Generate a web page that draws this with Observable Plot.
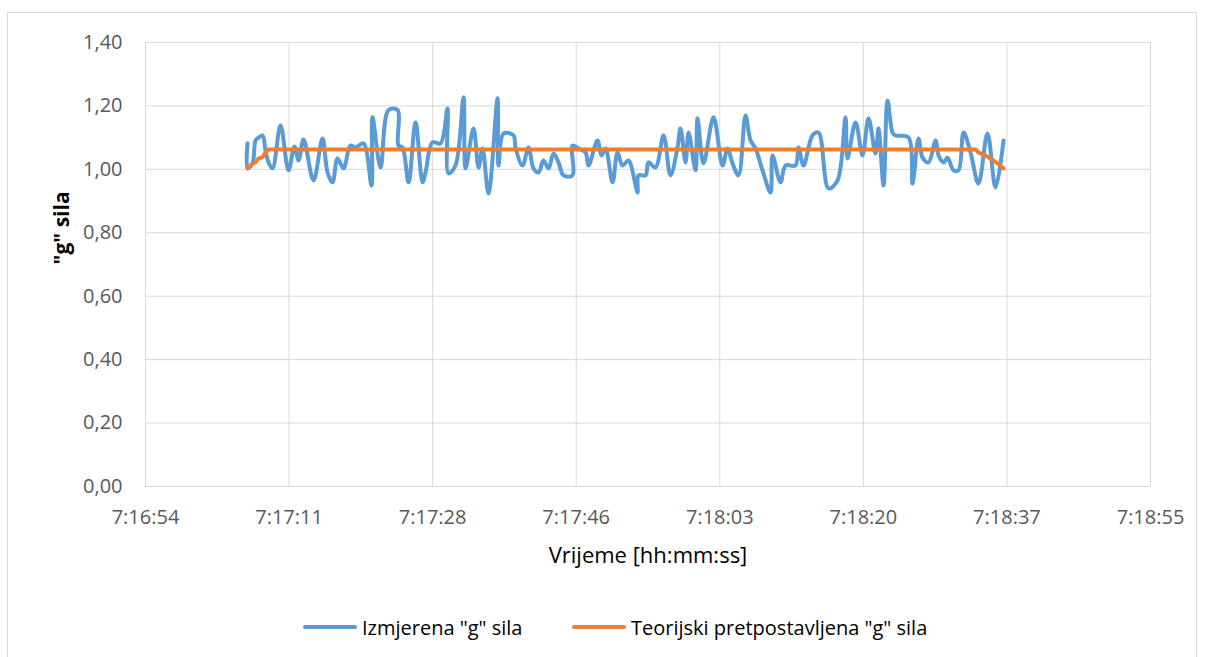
<!DOCTYPE html>
<html>
<head>
<meta charset="utf-8">
<script src="https://cdn.jsdelivr.net/npm/d3@7"></script>
<script src="https://cdn.jsdelivr.net/npm/@observablehq/plot@0.6"></script>
<style>
  html, body { margin: 0; padding: 0; background: #fff; overflow: hidden; }
  #wrap { position: relative; width: 1206px; height: 657px; font-family: "Open Sans", sans-serif; }
  #border { position: absolute; left: 7px; top: 12px; width: 1190px; height: 700px; border: 1px solid #d9d9d9; box-sizing: border-box; }
  #chart { position: absolute; left: 0; top: 0; }
  #legend { position: absolute; top: 612px; left: 0; width: 1206px; height: 30px; font-size: 20px; color: #000; }
  .item { position: absolute; top: 0; display: flex; align-items: center; height: 30px; }
  .sw { width: 54px; height: 4px; margin-right: 5px; border-radius: 2px; }
</style>
</head>
<body>
<div id="wrap">
  <div id="border"></div>
  <div id="chart"></div>
  <div id="legend"></div>
</div>
<script>
// ---- data (times as seconds after 7:17:00) ----
const measuredSec = [6.04,6.04,6.64,7.00,7.36,7.84,8.20,8.56,9.05,10.01,10.97,11.69,12.18,12.78,13.98,15.06,15.67,16.27,16.87,17.59,
  18.43,19.04,20.00,20.96,21.08,22.05,23.01,24.09,24.21,24.69,25.42,26.26,27.10,27.46,28.30,29.27,30.11,30.23,31.07,32.04,
  32.28,33.24,33.84,34.32,35.04,36.13,36.25,36.85,38.05,38.29,39.14,39.86,40.46,41.06,41.66,42.27,42.87,43.47,44.07,45.15,
  45.15,45.88,46.72,47.08,48.16,48.64,49.13,49.97,50.57,51.17,51.89,52.98,53.10,53.94,54.30,55.14,56.11,56.95,57.79,58.15,
  58.76,59.12,59.96,60.20,60.92,62.13,63.21,63.81,64.41,65.13,65.98,66.58,67.18,68.02,68.99,69.23,70.19,70.79,71.99,72.36,
  72.96,74.04,74.76,75.97,77.05,78.01,78.25,79.22,80.06,80.78,81.62,81.98,82.59,83.07,83.67,84.03,85.60,86.08,86.80,87.28,
  88.00,88.85,89.21,89.81,90.29,91.01,91.61,92.22,93.06,94.02,95.10,96.07,97.03];
const measuredG = [1.082,1.003,1.019,1.091,1.100,1.107,1.060,1.022,1.003,1.138,0.997,1.072,1.028,1.094,0.965,1.097,0.990,0.959,1.034,1.003,
  1.075,1.069,1.082,0.949,1.164,1.006,1.187,1.187,1.075,1.069,0.959,1.148,0.959,0.990,1.085,1.082,1.192,0.987,1.012,1.227,
  1.003,1.129,1.006,1.066,0.924,1.224,1.012,1.113,1.107,1.069,1.012,1.069,1.003,0.990,1.028,1.003,1.050,1.022,0.981,0.981,
  1.075,1.066,1.053,1.012,1.091,1.044,1.066,0.959,1.053,1.012,1.028,0.927,0.981,0.981,1.022,1.006,1.107,0.981,1.069,1.129,
  1.022,1.116,0.997,1.161,1.019,1.164,1.012,1.066,1.019,0.981,1.170,1.091,1.066,0.997,0.927,1.044,0.959,1.012,1.012,1.069,
  1.012,1.107,1.116,0.940,0.965,1.164,1.034,1.148,1.044,1.161,1.050,1.129,0.949,1.217,1.116,1.107,1.100,0.955,1.097,1.037,
  1.022,1.091,1.044,1.022,1.037,0.997,0.997,1.116,1.053,0.955,1.113,0.943,1.091];
const theorySec = [6.04,6.64,7.00,7.36,7.84,8.20,8.56,93.66,94.02,94.86,95.46,96.30,97.03];
const theoryG   = [1.003,1.019,1.022,1.034,1.038,1.053,1.063,1.063,1.053,1.044,1.034,1.019,1.003];

const seriesNames = ['Izmjerena "g" sila', 'Teorijski pretpostavljena "g" sila'];
const seriesColors = ["#5b9bd5", "#ed7d31"];
const xTickLabels = ["7:16:54","7:17:11","7:17:28","7:17:46","7:18:03","7:18:20","7:18:37","7:18:55"];
const yTicks = [0,0.2,0.4,0.6,0.8,1.0,1.2,1.4];
const xTitle = "Vrijeme [hh:mm:ss]";
const yTitle = '"g" sila';

// axis settings (Excel-style: min 0.3034 day, major unit 0.0002 day)
const base = 7*3600 + 17*60;
const xMin = 0.3034 * 86400, xStep = 0.0002 * 86400;
const xTicks = xTickLabels.map((_, i) => xMin + i * xStep);

const measured = measuredSec.map((s, i) => ({t: base + s, g: measuredG[i]}));
const theory = theorySec.map((s, i) => ({t: base + s, g: theoryG[i]}));

const fmtY = d => d.toFixed(2).replace(".", ",");

const chart = Plot.plot({
  width: 1206,
  height: 592,
  marginLeft: 145,
  marginRight: 56,
  marginTop: 42,
  marginBottom: 106,
  style: { fontFamily: "'Open Sans', sans-serif", background: "transparent", overflow: "visible" },
  x: { domain: [xMin, xMin + 7 * xStep] },
  y: { domain: [0, 1.4] },
  marks: [
    Plot.gridX(xTicks, { stroke: "#d9d9d9", strokeOpacity: 1, strokeWidth: 1 }),
    Plot.gridY(yTicks, { stroke: "#d9d9d9", strokeOpacity: 1, strokeWidth: 1 }),
    Plot.axisX(xTicks, { tickSize: 0, tickPadding: 23, fontSize: 20, fill: "#595959",
      tickFormat: (d, i) => xTickLabels[i], label: null }),
    Plot.axisY(yTicks, { tickSize: 0, tickPadding: 23, fontSize: 20, fill: "#595959",
      tickFormat: fmtY, label: null }),
    Plot.text([xTitle], { frameAnchor: "bottom", dy: 76, fontSize: 22, fill: "#000" }),
    Plot.text([yTitle], { frameAnchor: "left", dx: -83, rotate: -90, fontSize: 21, fontWeight: "bold", fill: "#000" }),
    Plot.line(measured, { x: "t", y: "g", stroke: seriesColors[0], strokeWidth: 4, curve: "catmull-rom", strokeLinejoin: "round", strokeLinecap: "round" }),
    Plot.line(theory, { x: "t", y: "g", stroke: seriesColors[1], strokeWidth: 4, strokeLinejoin: "round", strokeLinecap: "round" })
  ]
});
document.getElementById("chart").appendChild(chart);

// legend
const legend = document.getElementById("legend");
const lefts = [303, 572];
seriesNames.forEach((name, i) => {
  const it = document.createElement("div");
  it.className = "item";
  it.style.left = lefts[i] + "px";
  const sw = document.createElement("div");
  sw.className = "sw";
  sw.style.background = seriesColors[i];
  const tx = document.createElement("span");
  tx.textContent = name;
  it.appendChild(sw); it.appendChild(tx);
  legend.appendChild(it);
});
</script>
</body>
</html>
